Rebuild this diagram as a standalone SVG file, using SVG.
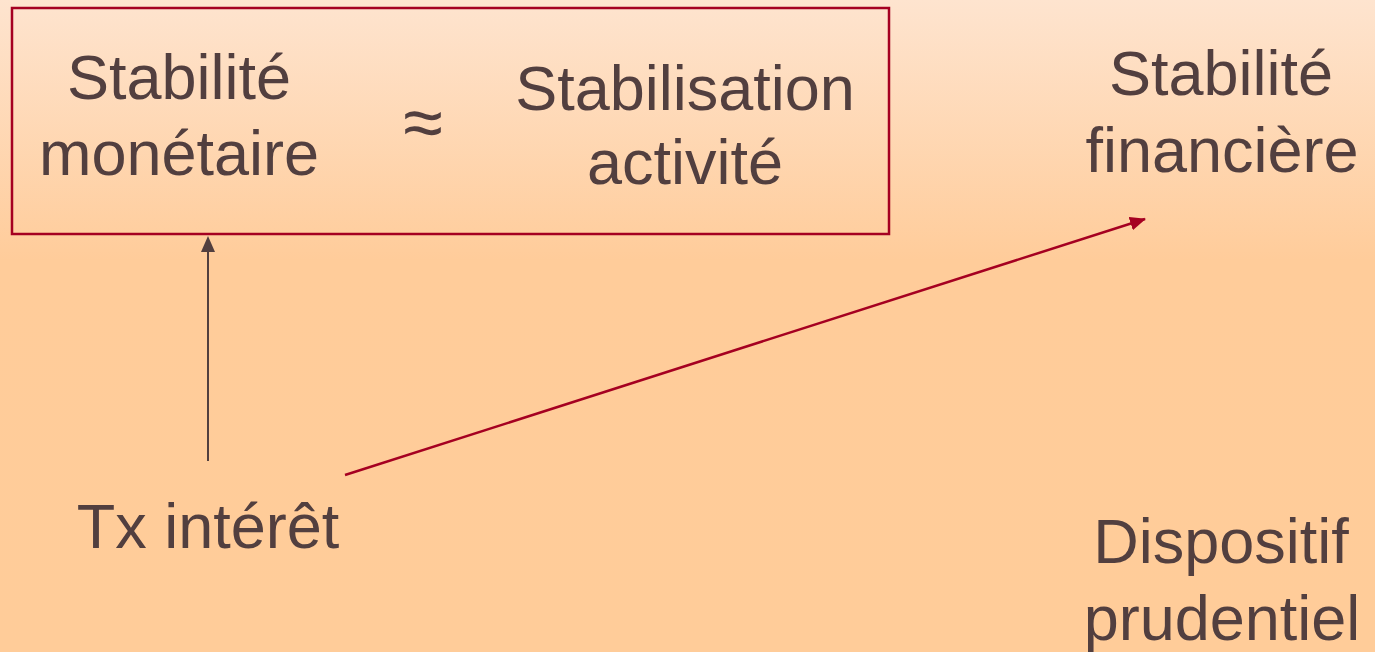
<svg xmlns="http://www.w3.org/2000/svg" width="1375" height="652" viewBox="0 0 1375 652">
<style>
.t{font-family:"Liberation Sans",Arial,sans-serif;font-size:63px;fill:#523F3F;text-anchor:middle}
</style>
<defs>
<linearGradient id="bg" x1="0" y1="0" x2="0" y2="652" gradientUnits="userSpaceOnUse">
<stop offset="0" stop-color="#FEE4CF"/>
<stop offset="0.4" stop-color="#FFCC9A"/>
<stop offset="1" stop-color="#FFCC99"/>
</linearGradient>
<marker id="ah2" markerWidth="16" markerHeight="14" refX="15" refY="7" orient="auto" markerUnits="userSpaceOnUse" viewBox="0 0 16 14">
<path d="M0,0 L16,7 L0,14 z" fill="#A50021"/>
</marker>
</defs>
<rect width="1375" height="652" fill="url(#bg)"/>
<g id="box-monetaire">
<rect x="12" y="8" width="877" height="226" fill="none" stroke="#A50021" stroke-width="2.5"/>
<text class="t" x="179" y="99">Stabilité</text>
<text class="t" x="179" y="175">monétaire</text>
<text class="t" x="423" y="147" style="font-size:72px">≈</text>
<text class="t" x="685" y="110">Stabilisation</text>
<text class="t" x="685" y="184">activité</text>
</g>
<g id="stabilite-financiere">
<text class="t" x="1221" y="95">Stabilité</text>
<text class="t" x="1222" y="172">financière</text>
</g>
<g id="tx-interet">
<text class="t" x="208" y="548">Tx intérêt</text>
</g>
<g id="dispositif-prudentiel">
<text class="t" x="1221" y="563">Dispositif</text>
<text class="t" x="1222" y="640">prudentiel</text>
</g>
<g id="connectors">
<line x1="208" y1="461" x2="208" y2="252" stroke="#523F3F" stroke-width="2"/>
<path d="M201,252 L208,236 L215,252 z" fill="#523F3F"/>
<line x1="345" y1="475" x2="1145" y2="219" stroke="#A50021" stroke-width="2.5" marker-end="url(#ah2)"/>
</g>
</svg>
